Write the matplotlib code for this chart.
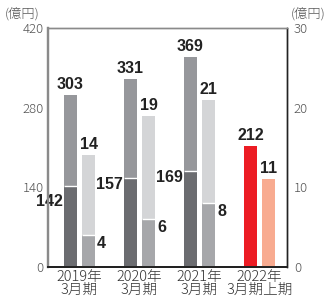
import matplotlib
matplotlib.use("Agg")
import matplotlib.pyplot as plt
import numpy as np

categories = ["2019年\n3月期", "2020年\n3月期", "2021年\n3月期", "2022年\n3月期上期"]
left_total = [303, 331, 369, 212]
left_bottom = [142, 157, 169, None]
right_total = [14, 19, 21, 11]
right_bottom = [4, 6, 8, None]
left_ticks = [0, 140, 280, 420]
right_ticks = [0, 10, 20, 30]

C_DARK = "#6b6c70"
C_MID = "#96979b"
C_LIGHT = "#d4d5d7"
C_MED = "#a6a7aa"
C_RED = "#ec1c24"
C_SALMON = "#f8ab90"

num_font = dict(family=["Liberation Sans", "DejaVu Sans"], fontweight="bold", fontsize=11.5, color="#222222")
tick_font = ["Noto Sans CJK JP", "DejaVu Sans"]

fig = plt.figure(figsize=(3.26, 2.98), dpi=100)
ax = fig.add_axes([48/326, 31/298, 239/326, 239/298])
ax2 = ax.twinx()

x = np.arange(len(categories))
w = 0.217
off = 0.15

for i in range(len(categories)):
    xl = x[i] - off
    xr = x[i] + off
    if left_bottom[i] is not None:
        ax.bar(xl, left_bottom[i], w, color=C_DARK, zorder=2)
        ax.bar(xl, left_total[i] - left_bottom[i], w, bottom=left_bottom[i], color=C_MID, zorder=2)
        ax.hlines(left_bottom[i], xl - w/2, xl + w/2, color="white", lw=1, zorder=3)
        ax2.bar(xr, right_bottom[i], w, color=C_MED, zorder=2)
        ax2.bar(xr, right_total[i] - right_bottom[i], w, bottom=right_bottom[i], color=C_LIGHT, zorder=2)
        ax2.hlines(right_bottom[i], xr - w/2, xr + w/2, color="white", lw=1, zorder=3)
        dy = -15 if i == 0 else -7
        ax.annotate(str(left_bottom[i]), (xl - w/2, left_bottom[i]), xytext=(-1, dy),
                    textcoords="offset pixels", ha="right", va="center", **num_font)
        ax2.annotate(str(right_bottom[i]), (xr + w/2, right_bottom[i]), xytext=(2, -8),
                     textcoords="offset pixels", ha="left", va="center", **num_font)
    else:
        ax.bar(xl, left_total[i], w, color=C_RED, zorder=2)
        ax2.bar(xr, right_total[i], w, color=C_SALMON, zorder=2)
    ax.annotate(str(left_total[i]), (xl, left_total[i]), xytext=(0, 3),
                textcoords="offset pixels", ha="center", va="bottom", **num_font)
    ax2.annotate(str(right_total[i]), (xr, right_total[i]), xytext=(0, 3),
                 textcoords="offset pixels", ha="center", va="bottom", **num_font)

ax.set_xlim(-0.525, 3.458)
ax.set_ylim(0, 420)
ax2.set_ylim(0, 30)
ax.set_yticks(left_ticks)
ax2.set_yticks(right_ticks)
ax.set_xticks(x)
ax.set_xticklabels(categories, family=tick_font, fontsize=10.5, fontweight="light",
                   color="#333333", linespacing=0.9)
for lab in ax.get_yticklabels():
    lab.set_family(tick_font); lab.set_fontsize(9.5); lab.set_color("#555555"); lab.set_fontweight("light")
for lab in ax2.get_yticklabels():
    lab.set_family(tick_font); lab.set_fontsize(9.5); lab.set_color("#555555"); lab.set_fontweight("light")
ax.tick_params(axis="both", length=0, pad=3)
ax2.tick_params(axis="y", length=0, pad=5)
ax.tick_params(axis="x", pad=2)

for a in (ax, ax2):
    a.spines["left"].set_color("#8a8a8a"); a.spines["left"].set_linewidth(1.6)
    a.spines["top"].set_color("#8a8a8a"); a.spines["top"].set_linewidth(1.0)
    a.spines["right"].set_color("#222222"); a.spines["right"].set_linewidth(1.0)
    a.spines["bottom"].set_color("#222222"); a.spines["bottom"].set_linewidth(1.4)

fig.text(5/326, 1 - 14/298, "(億円)", family=tick_font, fontsize=9.5, fontweight="light",
         color="#555555", va="center", ha="left")
fig.text(325/326, 1 - 14/298, "(億円)", family=tick_font, fontsize=9.5, fontweight="light",
         color="#555555", va="center", ha="right")

fig.savefig("out.png", dpi=100)
